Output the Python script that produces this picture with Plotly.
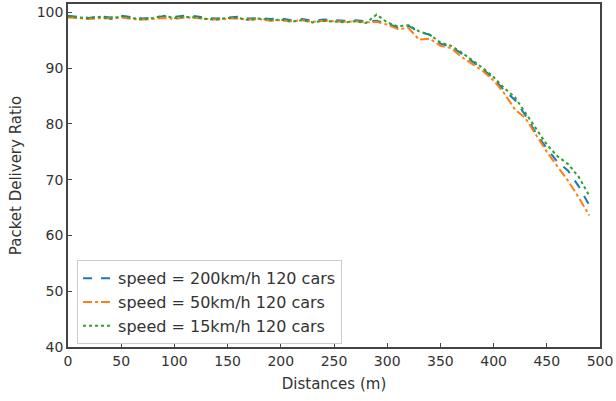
import plotly.graph_objects as go

distances = list(range(0, 500, 10))

pdr_200 = [99.4, 99.2, 99.0, 99.3, 99.1, 99.4, 99.2, 98.9, 99.1, 99.3,
           99.2, 99.4, 99.3, 99.0, 98.9, 99.1, 99.2, 98.9, 99.0, 98.8,
           98.9, 98.6, 98.8, 98.5, 98.7, 98.6, 98.5, 98.6, 98.4, 98.5,
           98.0, 97.3, 97.6, 96.5, 96.0, 94.4, 93.8, 92.6, 91.2, 89.8,
           88.1, 86.0, 84.3, 81.5, 78.3, 75.6, 73.2, 71.6, 68.8, 65.4]

pdr_50 = [99.1, 99.0, 98.8, 99.0, 98.9, 99.1, 98.8, 98.7, 98.9, 99.0,
          98.8, 99.1, 99.0, 98.8, 98.7, 98.9, 98.9, 98.7, 98.8, 98.5,
          98.6, 98.4, 98.6, 98.3, 98.5, 98.4, 98.3, 98.4, 98.2, 98.3,
          97.8, 97.0, 97.2, 95.1, 95.3, 94.0, 93.6, 92.0, 90.8, 89.5,
          87.8, 85.5, 82.6, 81.0, 78.0, 75.0, 72.4, 69.8, 66.8, 63.6]

pdr_15 = [99.3, 99.1, 98.9, 99.2, 98.8, 99.3, 99.0, 98.7, 99.0, 99.4,
          99.0, 99.2, 99.1, 98.8, 98.7, 99.0, 99.0, 98.6, 98.9, 98.6,
          98.7, 98.3, 98.6, 98.2, 98.5, 98.3, 98.2, 98.4, 98.1, 99.6,
          98.2, 97.5, 97.7, 96.6, 96.0, 94.6, 94.0, 92.8, 91.4, 90.0,
          88.4, 86.4, 84.8, 82.0, 79.0, 76.3, 74.2, 72.8, 70.5, 67.1]

series = [
    ("speed = 200km/h 120 cars", pdr_200, "#1f77b4", "dash"),
    ("speed = 50km/h 120 cars", pdr_50, "#ff7f0e", "dashdot"),
    ("speed = 15km/h 120 cars", pdr_15, "#2ca02c", "dot"),
]

fig = go.Figure()
for name, vals, color, dash in series:
    fig.add_trace(go.Scatter(x=distances, y=vals, mode="lines", name=name,
                             line=dict(color=color, dash=dash, width=2)))

axis_common = dict(showline=True, linecolor="#444", linewidth=1.5, mirror=True,
                   ticks="inside", ticklen=4, tickcolor="#444", showgrid=False,
                   zeroline=False, automargin=False,
                   tickfont=dict(family="DejaVu Sans", size=14, color="#333"))

fig.update_xaxes(range=[0, 500], dtick=50, title=dict(text="Distances (m)",
                 font=dict(family="DejaVu Sans", size=15, color="#333"), standoff=11),
                 **axis_common)
fig.update_yaxes(range=[40, 101.5], tickvals=[40, 50, 60, 70, 80, 90, 100],
                 title=dict(text="Packet Delivery Ratio",
                            font=dict(family="DejaVu Sans", size=15, color="#333"), standoff=11),
                 **axis_common)

fig.update_layout(
    width=616, height=401,
    margin=dict(l=68, r=16, t=4, b=54),
    plot_bgcolor="white", paper_bgcolor="white",
    legend=dict(x=0.017, y=0.008, xanchor="left", yanchor="bottom",
                bgcolor="rgba(255,255,255,0.8)", bordercolor="#ccc", borderwidth=1,
                font=dict(family="DejaVu Sans", size=16, color="#333"),
                tracegroupgap=0, itemwidth=30),
)

fig.write_html("out.html", config={"displayModeBar": False},
               post_script="document.body.style.margin='0';")
